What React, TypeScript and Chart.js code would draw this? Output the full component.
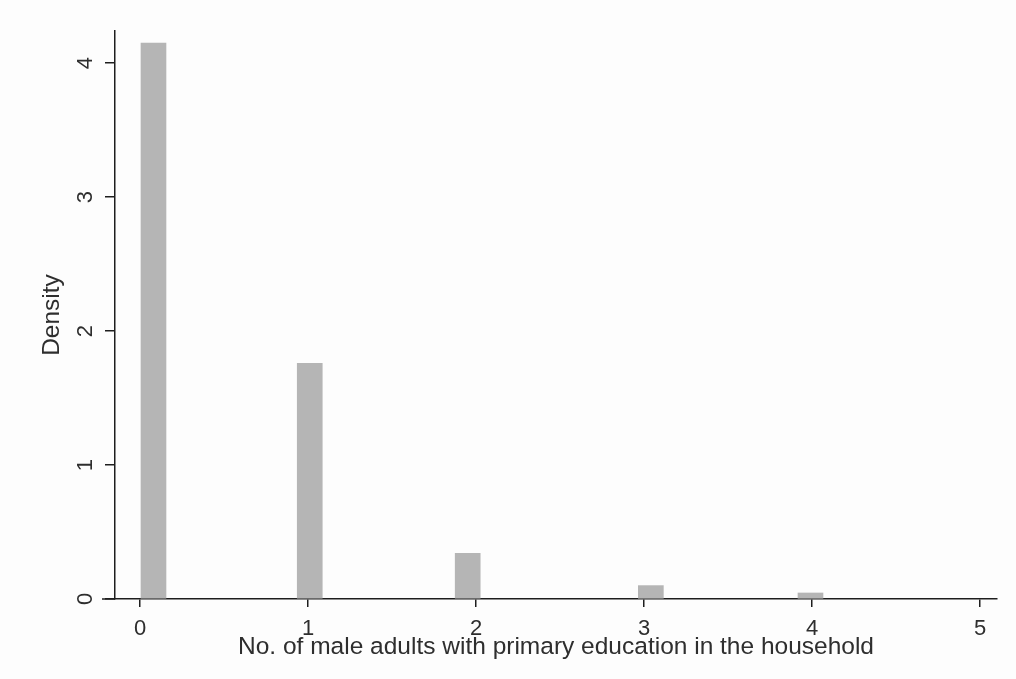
import React, { useEffect, useRef } from "react";
import { Chart, registerables } from "chart.js";

Chart.register(...registerables);

// Histogram bins (centre of each bar on the x scale) and densities
const binCenters = [0.08, 1.01, 1.95, 3.04, 3.99];
const densities = [4.15, 1.76, 0.34, 0.1, 0.045];
const xTickValues = [0, 1, 2, 3, 4, 5];
const yTickValues = [0, 1, 2, 3, 4];
const xTitle = "No. of male adults with primary education in the household";
const yTitle = "Density";

const FONT = "'Liberation Sans', Arial, sans-serif";
const TEXT = "#2e2e2e";
const AXIS = "#1e1e1e";

const axisExtension = {
  id: "axisExtension",
  afterDraw(chart: any) {
    const { ctx, chartArea } = chart;
    ctx.save();
    ctx.strokeStyle = AXIS;
    ctx.lineWidth = 1.5;
    ctx.beginPath();
    ctx.moveTo(chartArea.left - 13, chartArea.bottom);
    ctx.lineTo(chartArea.left, chartArea.bottom);
    ctx.stroke();
    ctx.restore();
  },
};

export default function App() {
  const ref = useRef<HTMLCanvasElement>(null);
  useEffect(() => {
    if (!ref.current) return;
    const chart = new Chart(ref.current, {
      type: "bar",
      data: {
        datasets: [
          {
            data: binCenters.map((x, i) => ({ x, y: densities[i] })),
            backgroundColor: "#b5b5b5",
            borderWidth: 0,
            barThickness: 25,
          },
        ],
      },
      plugins: [axisExtension],
      options: {
        animation: false,
        responsive: true,
        maintainAspectRatio: false,
        layout: { padding: { top: 31, right: 19, left: 0, bottom: 0 } },
        plugins: { legend: { display: false }, tooltip: { enabled: false } },
        scales: {
          x: {
            type: "linear",
            offset: false,
            min: -0.149,
            max: 5.1,
            afterBuildTicks: (s: any) => {
              s.ticks = xTickValues.map((v) => ({ value: v }));
            },
            afterFit: (s: any) => {
              s.height = 80;
            },
            grid: {
              offset: false,
              drawOnChartArea: false,
              drawTicks: true,
              tickLength: 8,
              color: AXIS,
              lineWidth: 1.5,
            },
            border: { display: true, color: AXIS, width: 1.5 },
            ticks: {
              color: TEXT,
              font: { family: FONT, size: 22 },
              padding: 9,
              maxRotation: 0,
              minRotation: 0,
            },
            title: {
              display: true,
              text: xTitle,
              color: TEXT,
              font: { family: FONT, size: 24.5 },
              padding: { top: 0, bottom: 17 },
            },
          },
          y: {
            type: "linear",
            min: 0,
            max: 4.24,
            afterBuildTicks: (s: any) => {
              s.ticks = yTickValues.map((v) => ({ value: v }));
            },
            afterFit: (s: any) => {
              s.width = 115;
            },
            grid: {
              drawOnChartArea: false,
              drawTicks: true,
              tickLength: 10,
              color: AXIS,
              lineWidth: 1.5,
            },
            border: { display: true, color: AXIS, width: 1.5 },
            ticks: {
              color: TEXT,
              font: { family: FONT, size: 22 },
              padding: 13,
              minRotation: 90,
              maxRotation: 90,
              crossAlign: "center",
            },
            title: {
              display: true,
              text: yTitle,
              color: TEXT,
              font: { family: FONT, size: 24.5 },
              padding: { top: 38, bottom: 0 },
            },
          },
        },
      },
    });
    return () => chart.destroy();
  }, []);
  return (
    <div
      style={{
        position: "fixed",
        left: 0,
        top: 0,
        width: 1016,
        height: 679,
        background: "#fdfdfd",
      }}
    >
      <canvas ref={ref} />
    </div>
  );
}
